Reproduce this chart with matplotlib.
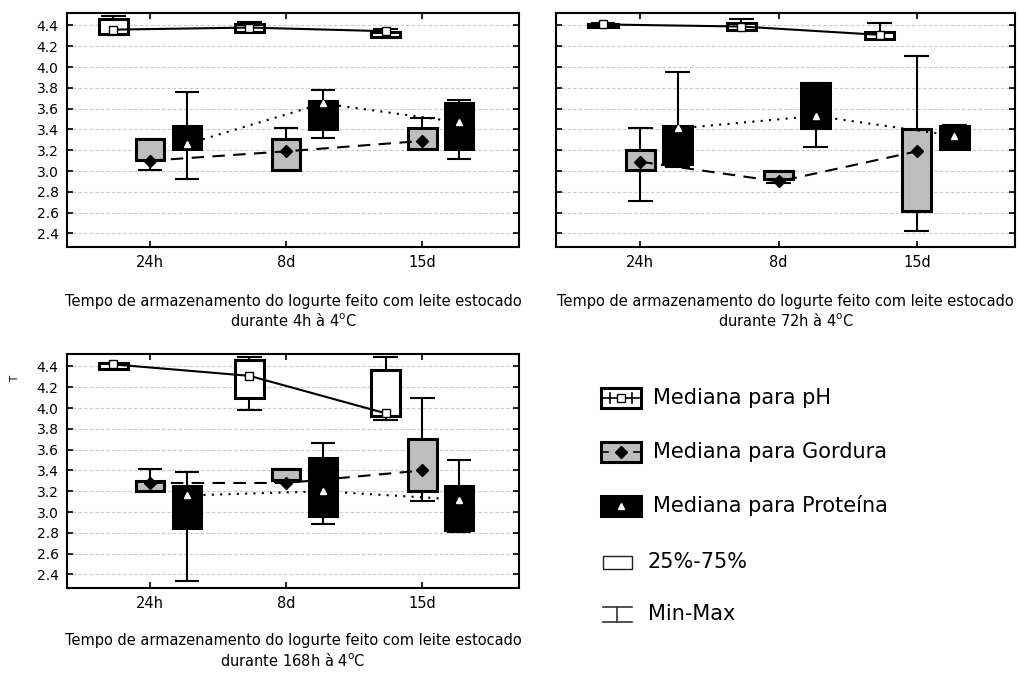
import matplotlib
matplotlib.use('Agg')
import matplotlib.pyplot as plt
import numpy as np
from matplotlib.patches import Rectangle

plt.rcParams['font.family'] = ['DejaVu Sans']

categories = ['24h', '8d', '15d']
yticks = [2.4, 2.6, 2.8, 3.0, 3.2, 3.4, 3.6, 3.8, 4.0, 4.2, 4.4]

# ---- 4h storage ----
ph_4h_min = [4.31, 4.34, 4.29]
ph_4h_q1 = [4.32, 4.34, 4.29]
ph_4h_med = [4.36, 4.38, 4.345]
ph_4h_q3 = [4.46, 4.41, 4.335]
ph_4h_max = [4.49, 4.43, 4.37]

gord_4h_min = [3.01, 3.01, 3.21]
gord_4h_q1 = [3.11, 3.01, 3.21]
gord_4h_med = [3.10, 3.19, 3.29]
gord_4h_q3 = [3.31, 3.31, 3.41]
gord_4h_max = [3.31, 3.41, 3.51]

prot_4h_min = [2.92, 3.32, 3.12]
prot_4h_q1 = [3.21, 3.40, 3.21]
prot_4h_med = [3.26, 3.65, 3.47]
prot_4h_q3 = [3.43, 3.67, 3.65]
prot_4h_max = [3.76, 3.78, 3.68]

# ---- 72h storage ----
ph_72h_min = [4.39, 4.36, 4.27]
ph_72h_q1 = [4.39, 4.36, 4.27]
ph_72h_med = [4.41, 4.39, 4.31]
ph_72h_q3 = [4.415, 4.42, 4.34]
ph_72h_max = [4.42, 4.46, 4.42]

gord_72h_min = [2.71, 2.89, 2.42]
gord_72h_q1 = [3.01, 2.92, 2.62]
gord_72h_med = [3.09, 2.90, 3.19]
gord_72h_q3 = [3.20, 3.00, 3.40]
gord_72h_max = [3.41, 3.00, 4.11]

prot_72h_min = [3.04, 3.23, 3.21]
prot_72h_q1 = [3.07, 3.41, 3.21]
prot_72h_med = [3.41, 3.53, 3.34]
prot_72h_q3 = [3.43, 3.85, 3.43]
prot_72h_max = [3.95, 3.85, 3.44]

# ---- 168h storage ----
ph_168h_min = [4.38, 3.98, 3.89]
ph_168h_q1 = [4.38, 4.10, 3.92]
ph_168h_med = [4.42, 4.31, 3.95]
ph_168h_q3 = [4.43, 4.46, 4.37]
ph_168h_max = [4.43, 4.49, 4.49]

gord_168h_min = [3.20, 3.29, 3.11]
gord_168h_q1 = [3.20, 3.31, 3.20]
gord_168h_med = [3.28, 3.28, 3.40]
gord_168h_q3 = [3.30, 3.41, 3.70]
gord_168h_max = [3.41, 3.41, 4.10]

prot_168h_min = [2.34, 2.89, 2.81]
prot_168h_q1 = [2.85, 2.96, 2.83]
prot_168h_med = [3.16, 3.20, 3.12]
prot_168h_q3 = [3.25, 3.52, 3.25]
prot_168h_max = [3.39, 3.66, 3.50]

xlabels = [
    'Tempo de armazenamento do Iogurte feito com leite estocado\ndurante 4h à 4$^{\\mathrm{o}}$C',
    'Tempo de armazenamento do Iogurte feito com leite estocado\ndurante 72h à 4$^{\\mathrm{o}}$C',
    'Tempo de armazenamento do Iogurte feito com leite estocado\ndurante 168h à 4$^{\\mathrm{o}}$C',
]

legend_labels = ['Mediana para pH', 'Mediana para Gordura', 'Mediana para Proteína',
                 '25%-75%', 'Min-Max']

GRAY = '#bdbdbd'
BOX_W = 0.21
CAP_W = 0.18

series_style = [
    # offset, facecolor, linestyle, marker, markerface, markeredge, msize
    (-0.27, 'white', '-', 's', 'white', 'black', 6),
    (0.0, GRAY, (0, (6, 4)), 'D', 'black', 'black', 6.5),
    (0.27, 'black', (0, (1, 3)), '^', 'white', 'white', 4),
]

panels = [
    [(ph_4h_min, ph_4h_q1, ph_4h_med, ph_4h_q3, ph_4h_max),
     (gord_4h_min, gord_4h_q1, gord_4h_med, gord_4h_q3, gord_4h_max),
     (prot_4h_min, prot_4h_q1, prot_4h_med, prot_4h_q3, prot_4h_max)],
    [(ph_72h_min, ph_72h_q1, ph_72h_med, ph_72h_q3, ph_72h_max),
     (gord_72h_min, gord_72h_q1, gord_72h_med, gord_72h_q3, gord_72h_max),
     (prot_72h_min, prot_72h_q1, prot_72h_med, prot_72h_q3, prot_72h_max)],
    [(ph_168h_min, ph_168h_q1, ph_168h_med, ph_168h_q3, ph_168h_max),
     (gord_168h_min, gord_168h_q1, gord_168h_med, gord_168h_q3, gord_168h_max),
     (prot_168h_min, prot_168h_q1, prot_168h_med, prot_168h_q3, prot_168h_max)],
]

W, H = 1019, 675
fig = plt.figure(figsize=(W / 100, H / 100), dpi=100)

def frac(left, top, right, bottom):
    return [left / W, 1 - bottom / H, (right - left) / W, (bottom - top) / H]

axes_rects = [frac(67, 13, 519, 247), frac(556, 13, 1015, 247), frac(67, 354, 519, 588)]
label_y = [-0.276, -0.276, -0.269]

x = np.arange(len(categories))

for k, (rect, data) in enumerate(zip(axes_rects, panels)):
    ax = fig.add_axes(rect)
    ax.set_xlim(-0.61, 2.71)
    ax.set_ylim(2.27, 4.52)
    ax.set_yticks(yticks)
    ax.set_xticks(x)
    ax.set_xticklabels(categories, fontsize=10.5)
    if k == 1:
        ax.set_yticklabels([])
    else:
        ax.set_yticklabels([f'{v:.1f}' for v in yticks], fontsize=10)
    ax.tick_params(direction='in', length=4.5, width=1.2, top=True, right=True, pad=6)
    ax.grid(axis='y', color='#c8c8c8', linestyle=(0, (3, 2)), linewidth=0.8)
    ax.set_axisbelow(True)
    for s in ax.spines.values():
        s.set_linewidth(1.5)

    for (mn, q1, med, q3, mx), (off, fc, ls, mk, mfc, mec, ms) in zip(data, series_style):
        xs = x + off
        mn, q1, med, q3, mx = map(np.asarray, (mn, q1, med, q3, mx))
        ax.vlines(xs, q3, mx, color='black', lw=1.5, zorder=2)
        ax.vlines(xs, mn, q1, color='black', lw=1.5, zorder=2)
        ax.hlines(mx, xs - CAP_W / 2, xs + CAP_W / 2, color='black', lw=1.5, zorder=2)
        ax.hlines(mn, xs - CAP_W / 2, xs + CAP_W / 2, color='black', lw=1.5, zorder=2)
        ax.bar(xs, q3 - q1, bottom=q1, width=BOX_W, facecolor=fc, edgecolor='black',
               linewidth=2.2, zorder=3)
        ax.plot(xs, med, color='black', linestyle=ls, lw=1.5, zorder=4)
        ax.plot(xs, med, linestyle='none', marker=mk, markerfacecolor=mfc,
                markeredgecolor=mec, markersize=ms, markeredgewidth=1, zorder=5)

    ax.text(0.5, label_y[k], xlabels[k], transform=ax.transAxes, ha='center', va='center',
            fontsize=10.5, linespacing=1.25, multialignment='center')

# small y-axis mark
fig.text(15 / W, 1 - 379 / H, 'T', rotation=90, fontsize=7.5, ha='center', va='center')

# ---- legend (drawn manually in figure pixel space) ----
lax = fig.add_axes([0, 0, 1, 1])
lax.set_xlim(0, W)
lax.set_ylim(H, 0)
lax.axis('off')
lax.patch.set_visible(False)

row_y = [398, 452, 506, 562, 614]
# pH symbol
lax.add_patch(Rectangle((601, row_y[0] - 10), 40, 20, facecolor='white', edgecolor='black', lw=2.2))
lax.plot([603, 639], [row_y[0], row_y[0]], color='black', lw=1.2)
lax.plot([610, 610], [row_y[0] - 5, row_y[0] + 5], color='black', lw=1.2)
lax.plot([632, 632], [row_y[0] - 5, row_y[0] + 5], color='black', lw=1.2)
lax.plot([621], [row_y[0]], marker='s', markerfacecolor='white', markeredgecolor='black', markersize=6)
# Gordura symbol
lax.add_patch(Rectangle((601, row_y[1] - 10), 40, 20, facecolor=GRAY, edgecolor='black', lw=2.2))
lax.plot([603, 608], [row_y[1], row_y[1]], color='black', lw=1.2)
lax.plot([634, 639], [row_y[1], row_y[1]], color='black', lw=1.2)
lax.plot([621], [row_y[1]], marker='D', markerfacecolor='black', markeredgecolor='black', markersize=6)
# Proteina symbol
lax.add_patch(Rectangle((601, row_y[2] - 10), 40, 20, facecolor='black', edgecolor='black', lw=2.2))
lax.plot([621], [row_y[2]], marker='^', markerfacecolor='white', markeredgecolor='white', markersize=4)
# 25-75
lax.add_patch(Rectangle((603, row_y[3] - 6), 29, 13, facecolor='white', edgecolor='#222222', lw=1))
# Min-Max
lax.plot([603, 632], [row_y[4] - 7, row_y[4] - 7], color='#333333', lw=1.2)
lax.plot([603, 632], [row_y[4] + 8, row_y[4] + 8], color='#333333', lw=1.2)
lax.plot([617.5, 617.5], [row_y[4] - 7, row_y[4] + 8], color='#333333', lw=1.2)

text_x = [653, 653, 653, 648, 648]
for ty, tx, lab in zip(row_y, text_x, legend_labels):
    lax.text(tx, ty, lab, fontsize=15, ha='left', va='center')

fig.savefig('out.png', dpi=100)
